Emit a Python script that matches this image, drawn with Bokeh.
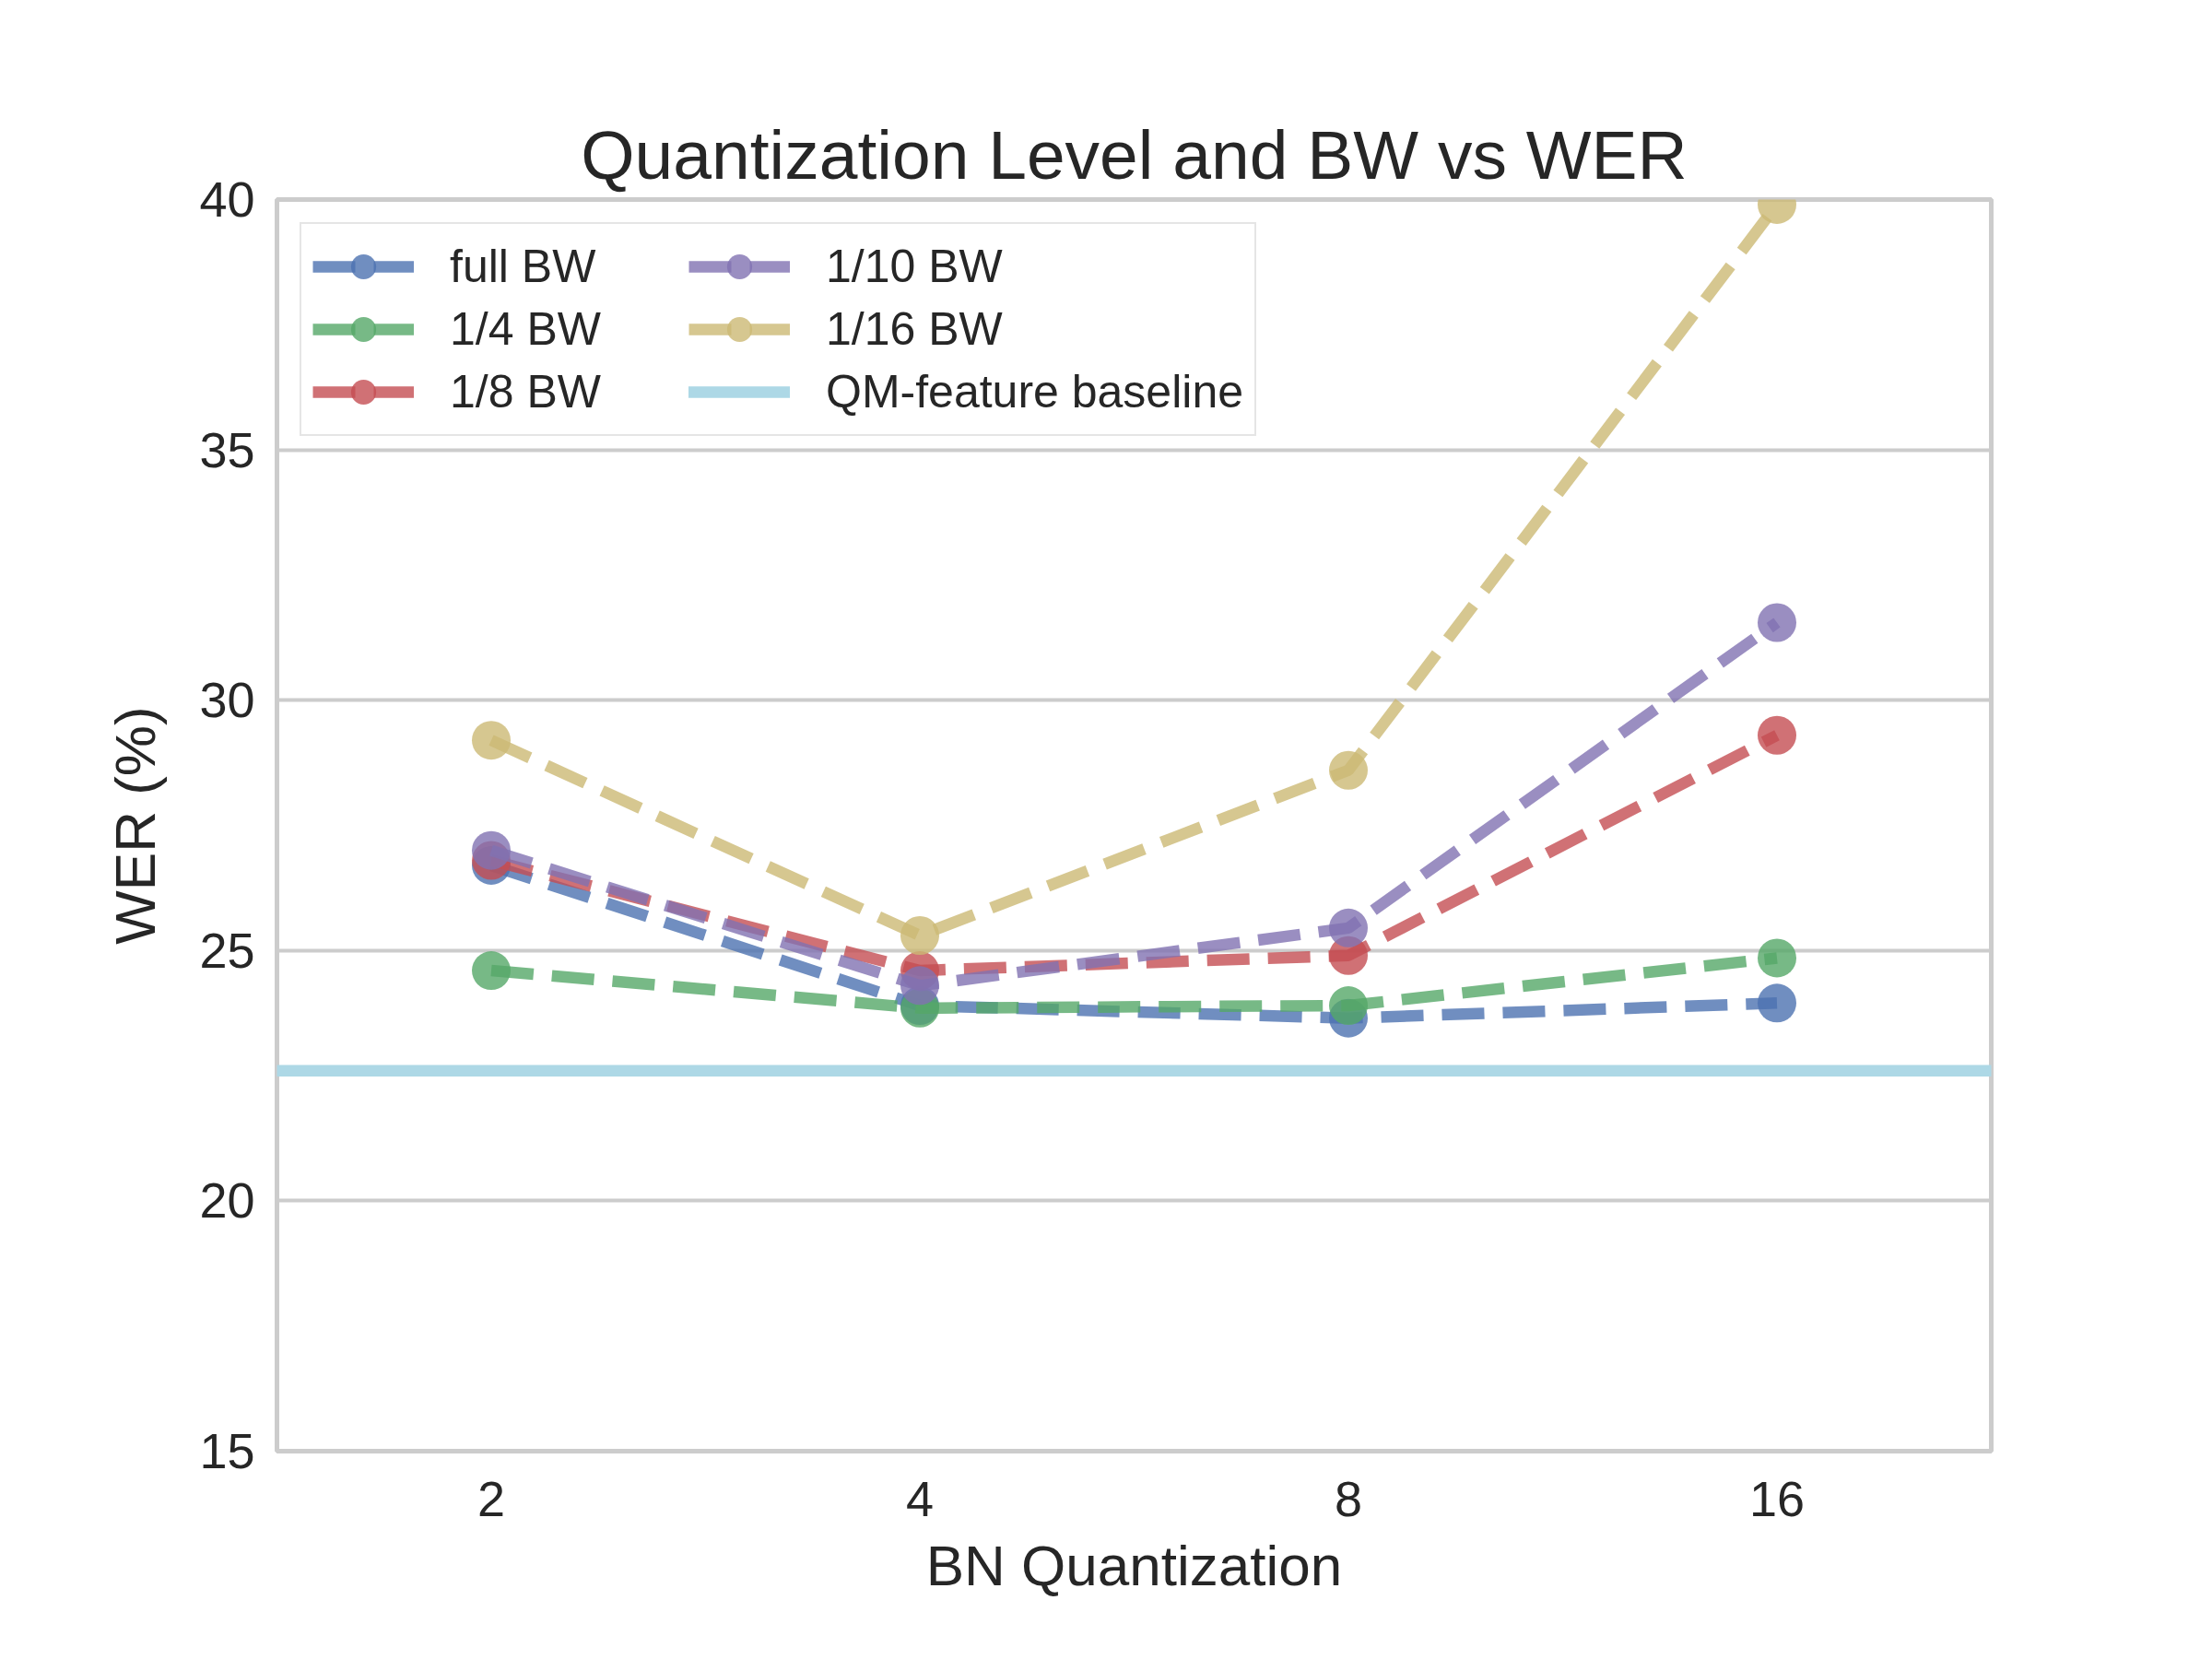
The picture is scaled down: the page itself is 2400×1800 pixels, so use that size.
from bokeh.plotting import figure
from bokeh.models import Span, Legend, LegendItem, FixedTicker, ColumnDataSource, Range1d
from bokeh.embed import file_html
from bokeh.resources import INLINE

# ---- data ----
bn_quant = [2, 4, 8, 16]
tick_labels = ["2", "4", "8", "16"]
series_names = ["full BW", "1/4 BW", "1/8 BW", "1/10 BW", "1/16 BW"]
wer_full = [26.7, 23.9, 23.65, 23.95]
wer_quarter = [24.6, 23.85, 23.9, 24.85]
wer_eighth = [26.8, 24.6, 24.9, 29.3]
wer_tenth = [27.0, 24.3, 25.45, 31.55]
wer_sixteenth = [29.2, 25.3, 28.6, 39.9]
baseline_wer = 22.6
baseline_name = "QM-feature baseline"
y_ticks = [15, 20, 25, 30, 35, 40]

colors = ["#4C72B0", "#55A868", "#C44E52", "#8172B2", "#CCB974"]
baseline_color = "#ADD8E6"
text_color = "#262626"
grid_color = "#cccccc"
FONT = "Liberation Sans"

series = [wer_full, wer_quarter, wer_eighth, wer_tenth, wer_sixteenth]

p = figure(
    frame_width=1860, frame_height=1358,
    min_border_left=300, min_border_right=232,
    min_border_top=216, min_border_bottom=218,
    x_axis_type="log",
    x_range=Range1d(bn_quant[0] / 2 ** 0.5, bn_quant[-1] * 2 ** 0.5),
    y_range=Range1d(y_ticks[0], y_ticks[-1]),
    output_backend="svg", toolbar_location=None,
    title="Quantization Level and BW vs WER",
)
p.background_fill_color = "white"
p.border_fill_color = "white"
p.outline_line_color = grid_color
p.outline_line_width = 5

p.title.text_font = FONT
p.title.text_font_size = "75px"
p.title.text_font_style = "normal"
p.title.text_color = text_color
p.title.align = "center"
p.title.standoff = 14

p.xaxis.ticker = FixedTicker(ticks=bn_quant)
p.xaxis.major_label_overrides = {v: s for v, s in zip(bn_quant, tick_labels)}
p.yaxis.ticker = FixedTicker(ticks=y_ticks)
for ax in (p.xaxis, p.yaxis):
    ax.axis_line_color = None
    ax.major_tick_line_color = None
    ax.minor_tick_line_color = None
    ax.major_label_text_font = FONT
    ax.major_label_text_font_size = "54px"
    ax.major_label_text_color = text_color
    ax.axis_label_text_font = FONT
    ax.axis_label_text_font_size = "62px"
    ax.axis_label_text_font_style = "normal"
    ax.axis_label_text_color = text_color
p.xaxis.axis_label = "BN Quantization"
p.yaxis.axis_label = "WER (%)"
p.xaxis.major_label_standoff = 27
p.xaxis.axis_label_standoff = 16
p.yaxis.major_label_standoff = 18
p.yaxis.axis_label_standoff = 32

p.xgrid.visible = False
p.ygrid.grid_line_color = grid_color
p.ygrid.grid_line_width = 4

items = []
for name, vals, col in zip(series_names, series, colors):
    src = ColumnDataSource(dict(x=bn_quant, y=vals))
    r_line = p.line("x", "y", source=src, line_color=col, line_alpha=0.8,
                    line_width=12.5, line_dash="46 20", line_cap="butt")
    r_pts = p.scatter("x", "y", source=src, size=42, fill_color=col,
                      fill_alpha=0.8, line_color=None)
    items.append(LegendItem(label=name, renderers=[r_line, r_pts]))

base_span = Span(location=baseline_wer, dimension="width", line_color=baseline_color,
                 line_width=12.5, line_cap="round")
p.add_layout(base_span)
# legend-only renderer for the baseline (NaN values draw nothing in the plot)
r_base = p.line(x=bn_quant, y=[float("nan")] * len(bn_quant),
                line_color=baseline_color, line_width=12.5, line_cap="round")
items.append(LegendItem(label=baseline_name, renderers=[r_base]))

legend = Legend(
    items=items, location="top_left", margin=25, nrows=3,
    glyph_width=110, glyph_height=68, spacing=0, padding=12,
    label_standoff=39, label_width=259,
    label_text_font=FONT, label_text_font_size="50px", label_text_color=text_color,
    border_line_color=grid_color, border_line_width=2,
    background_fill_color="white", background_fill_alpha=0.8,
)
p.add_layout(legend)

open("out.html", "w").write(file_html(p, INLINE))
